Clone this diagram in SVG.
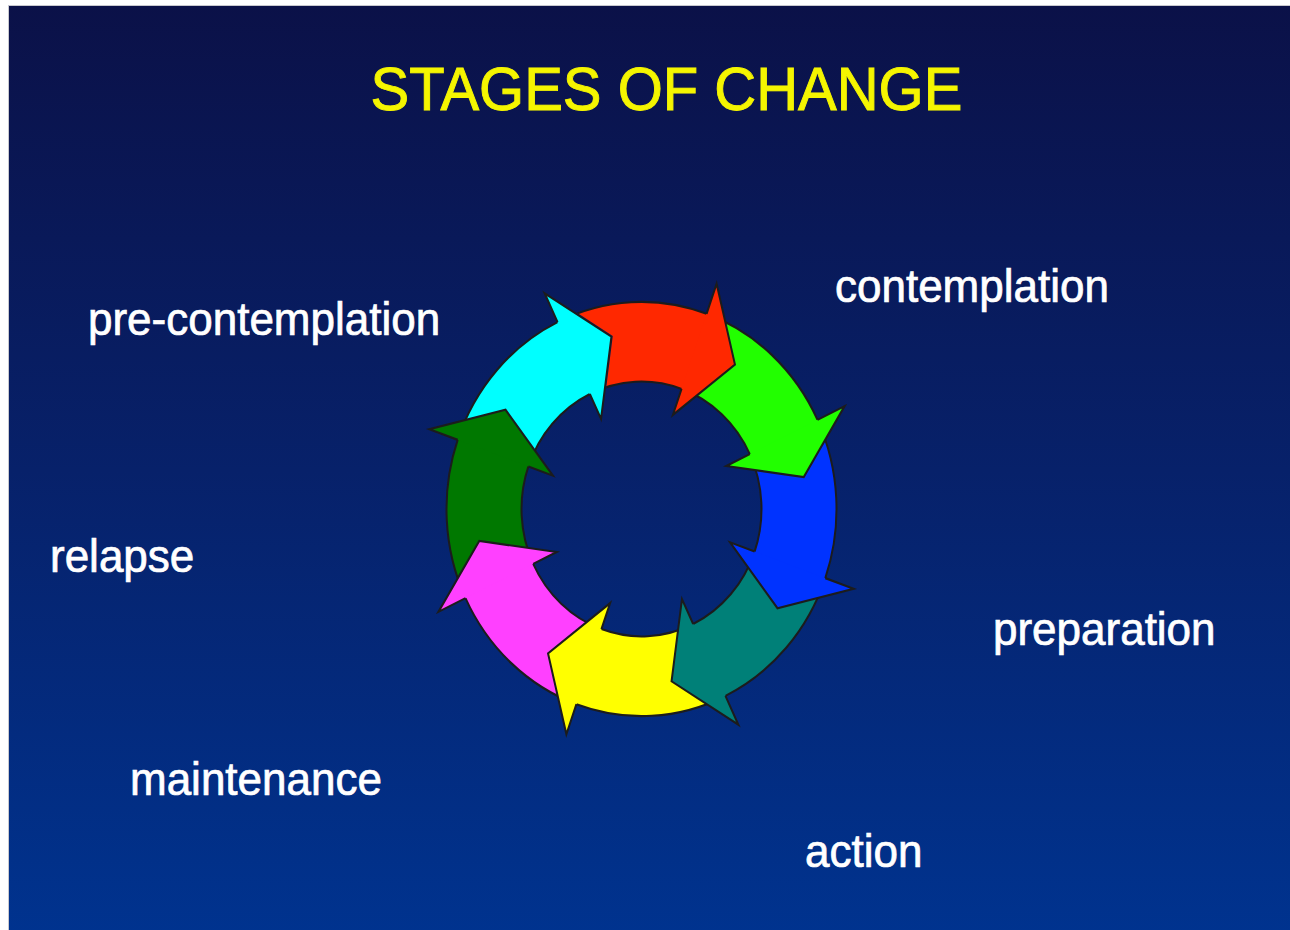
<svg xmlns="http://www.w3.org/2000/svg" width="1290" height="930" viewBox="0 0 1290 930">
<style>
.lbl{font-family:"Liberation Sans",Arial,sans-serif;font-size:44px;fill:#ffffff;stroke:#ffffff;stroke-width:0.7}
.ttl{font-family:"Liberation Sans",Arial,sans-serif;font-size:58px;fill:#f5f500;stroke:#f5f500;stroke-width:0.9}
.edge{fill:none;stroke:#1c1c1c;stroke-width:2;stroke-linejoin:miter}
</style>
<defs>
<linearGradient id="bg" x1="0" y1="0" x2="0" y2="1">
<stop offset="0" stop-color="#0b1148"/>
<stop offset="0.5" stop-color="#07216a"/>
<stop offset="1" stop-color="#00338f"/>
</linearGradient>
<path id="hf" d="M 65.09 -183.81 L 75.11 -212.09 L 93.46 -135.98 L 31.38 -88.60 L 40.06 -113.11 Z"/>
<g id="arrow">
<path d="M -83.95 -176.01 A 195 195 0 0 1 68.29 -182.66 L 42.02 -112.40 A 120 120 0 0 0 -51.66 -108.31 Z"/>
<path class="edge" d="M -83.95 -176.01 A 195 195 0 0 1 65.09 -183.81 M 40.06 -113.11 A 120 120 0 0 0 -51.66 -108.31"/>
<use href="#hf"/>
<path class="edge" d="M 65.09 -183.81 L 75.11 -212.09 L 93.46 -135.98 L 31.38 -88.60 L 40.06 -113.11"/>
</g>
<mask id="cutRed" maskUnits="userSpaceOnUse" x="-300" y="-300" width="600" height="600">
<rect x="-300" y="-300" width="600" height="600" fill="#fff"/>
<use href="#hf" transform="rotate(-45)" fill="#000" stroke="#000" stroke-width="2.5"/>
</mask>
</defs>
<rect x="0" y="0" width="1290" height="930" fill="#ffffff"/>
<rect x="8.5" y="5.5" width="1290" height="930" fill="url(#bg)" stroke="#c9c9cf" stroke-width="1"/>
<text class="ttl" text-anchor="middle" transform="translate(666.5,110) scale(1,1.062)">STAGES OF CHANGE</text>
<g id="cycle" transform="translate(641.5,509) scale(1,1.062)">
<g id="arrow-cyan"><use href="#arrow" transform="rotate(315)" fill="#00ffff"/></g>
<g id="arrow-darkgreen"><use href="#arrow" transform="rotate(270)" fill="#007800"/></g>
<g id="arrow-magenta"><use href="#arrow" transform="rotate(225)" fill="#ff40ff"/></g>
<g id="arrow-yellow"><use href="#arrow" transform="rotate(180)" fill="#ffff00"/></g>
<g id="arrow-teal"><use href="#arrow" transform="rotate(135)" fill="#008078"/></g>
<g id="arrow-blue"><use href="#arrow" transform="rotate(90)" fill="#0033ff"/></g>
<g id="arrow-green"><use href="#arrow" transform="rotate(45)" fill="#22ff00"/></g>
<g id="arrow-red" mask="url(#cutRed)"><use href="#arrow" fill="#ff2800"/></g>
</g>
<g id="labels">
<text id="pre-contemplation" class="lbl" transform="translate(88,335) scale(1,1.062)">pre-contemplation</text>
<text id="contemplation" class="lbl" transform="translate(835,302) scale(1,1.062)">contemplation</text>
<text id="relapse" class="lbl" transform="translate(50,572) scale(1,1.062)">relapse</text>
<text id="preparation" class="lbl" transform="translate(993,645) scale(1,1.062)">preparation</text>
<text id="maintenance" class="lbl" transform="translate(130,795) scale(1,1.062)">maintenance</text>
<text id="action" class="lbl" transform="translate(805,867) scale(1,1.062)">action</text>
</g>
</svg>
